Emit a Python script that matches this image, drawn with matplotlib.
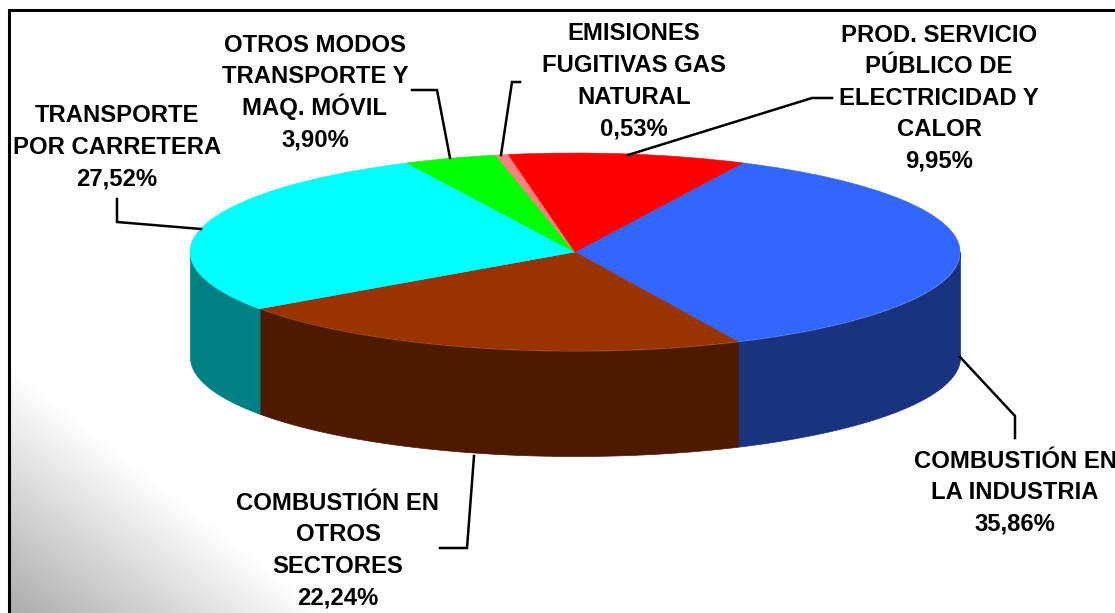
import matplotlib
matplotlib.use("Agg")
import matplotlib.pyplot as plt
import numpy as np

W, H = 1115, 613

# slices, clockwise starting from the blue one
names = ["COMBUSTIÓN EN\nLA INDUSTRIA",
         "COMBUSTIÓN EN\nOTROS\nSECTORES",
         "TRANSPORTE\nPOR CARRETERA",
         "OTROS MODOS\nTRANSPORTE Y\nMAQ. MÓVIL",
         "EMISIONES\nFUGITIVAS GAS\nNATURAL",
         "PROD. SERVICIO\nPÚBLICO DE\nELECTRICIDAD Y\nCALOR"]
values = [35.86, 22.24, 27.52, 3.90, 0.53, 9.95]
top_colors = ["#3366FF", "#993300", "#00FFFF", "#00FF00", "#FF8080", "#FF0000"]
side_colors = ["#19337F", "#4D1A00", "#008080", "#008000", "#804040", "#800000"]

# label center x, center y of the first line (pixels)
label_pos = [(1015, 459), (338, 501), (117, 114), (315, 43), (634, 32), (939, 33)]
line_step = 31.6

# leader lines (pixels)
leaders = [[(1015, 438), (1015, 416), (960, 357)],
           [(440, 548), (467, 548), (474, 456)],
           [(117, 199), (117, 222), (201, 229)],
           [(412, 90), (437, 90), (450, 158)],
           [(520, 82), (512, 82), (501, 155)],
           [(832, 98), (812, 98), (628, 155)]]

start_angle = 64.15
pie_left, pie_right = 190, 960
pie_top, pie_bottom = 153, 351
depth = 105

plt.rcParams["font.family"] = ["Liberation Sans", "DejaVu Sans"]
plt.rcParams["font.weight"] = "bold"

fig = plt.figure(figsize=(W/100, H/100), dpi=100)
fig.patch.set_facecolor("white")

# background axes in pixel coordinates
bg = fig.add_axes([0, 0, 1, 1])
bg.axis("off")

# grey corner at the bottom left of the chart area
xx, yy = np.meshgrid(np.arange(9, W), np.arange(10, H))
shade = 1 - np.clip((xx - 9)/320 + (H - yy)/250, 0, 1)
gray = 1 - 0.33*shade
bg.imshow(gray, extent=(9, W, H, 10), cmap="gray", vmin=0, vmax=1,
          aspect="auto", interpolation="bilinear", zorder=0)
bg.set_xlim(0, W)
bg.set_ylim(H, 0)
bg.plot([W + 5, 9, 9], [10, 10, H + 5], color="black", lw=2.2, zorder=1,
        solid_joinstyle="miter")

# pie axes, stretched so the circle becomes an ellipse
ry = (pie_bottom - pie_top)/2
ax = fig.add_axes([pie_left/W, 1 - (pie_bottom + depth)/H,
                   (pie_right - pie_left)/W, (pie_bottom + depth - pie_top)/H])
ax.patch.set_alpha(0)
wedges, _ = ax.pie(values, colors=top_colors, startangle=start_angle, counterclock=False,
                   radius=1, wedgeprops={"linewidth": 0.4}, normalize=True)
for w in wedges:
    w.set_edgecolor(w.get_facecolor())
ax.set_aspect("auto")
ax.set_xlim(-1, 1)
ax.set_ylim(-1 - depth/ry, 1)
ax.axis("off")

# side wall, only the front half of the ellipse shows
angles = start_angle - np.cumsum([0] + values)*3.6
for i in range(len(values)):
    hi = angles[i]
    lo = angles[i + 1]
    for shift in (0, -360):
        s = max(lo + 360 + shift, 180)
        e = min(hi + 360 + shift, 360)
        if e > s:
            t = np.radians(np.linspace(s, e, 200))
            ax.fill_between(np.cos(t), np.sin(t), np.sin(t) - depth/ry,
                            color=side_colors[i], lw=0.5, zorder=0, clip_on=False)

# texts and leaders on top
fg = fig.add_axes([0, 0, 1, 1])
fg.set_xlim(0, W)
fg.set_ylim(H, 0)
fg.axis("off")
fg.patch.set_alpha(0)

for name, v, pos, line in zip(names, values, label_pos, leaders):
    rows = name.split("\n") + [f"{v:.2f}".replace(".", ",") + "%"]
    for k, row in enumerate(rows):
        # one text per row, the accents would make the spacing uneven otherwise
        fg.text(pos[0], pos[1] + 8.5 + k*line_step, row, ha="center", va="baseline",
                fontsize=17.2, fontweight="bold", color="black")
    fg.plot([p[0] for p in line], [p[1] for p in line], color="black", lw=1.8,
            solid_joinstyle="miter")

fig.savefig("out.png", dpi=100)
